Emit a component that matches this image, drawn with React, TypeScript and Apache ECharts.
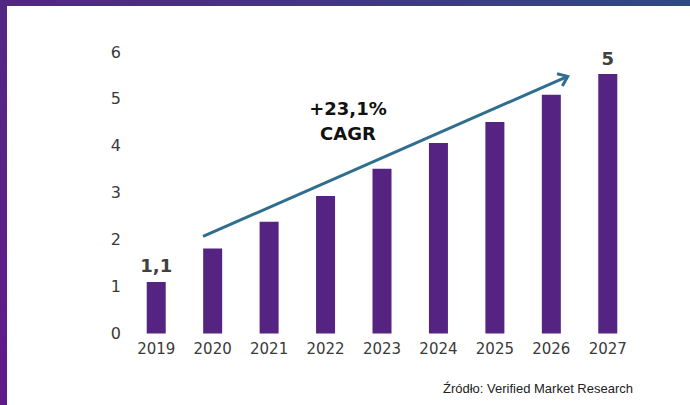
import React, { useEffect, useRef } from "react";
import * as echarts from "echarts";

const categories = ["2019", "2020", "2021", "2022", "2023", "2024", "2025", "2026", "2027"];
const values = [1.1, 1.81, 2.38, 2.93, 3.51, 4.06, 4.51, 5.09, 5.53];
const barLabels = ["1,1", "", "", "", "", "", "", "", "5"];
const yMin = 0;
const yMax = 6;
const yInterval = 1;
// arrow from/to in data units: [category position, value]
const arrowStart = [0.83, 2.07];
const arrowEnd = [7.29, 5.48];
const cagrText = ["+23,1%", "CAGR"];
const sourceText = "Źródło: Verified Market Research";

export default function App() {
  const ref = useRef<HTMLDivElement>(null);
  useEffect(() => {
    if (!ref.current) return;
    const chart = echarts.init(ref.current, null, { renderer: "svg" });
    const font = "'DejaVu Sans', Verdana, sans-serif";
    chart.setOption({
      animation: false,
      backgroundColor: "#ffffff",
      grid: { left: 128, right: 54, top: 52, bottom: 71.5 },
      xAxis: [
        {
          type: "category",
          data: categories,
          axisLine: { show: false },
          axisTick: { show: false },
          axisLabel: { color: "#3a3a3a", fontSize: 15, fontFamily: font, margin: 8 },
        },
        { type: "value", min: -0.5, max: 8.5, show: false },
      ],
      yAxis: {
        type: "value",
        min: yMin,
        max: yMax,
        interval: yInterval,
        axisLine: { show: false },
        axisTick: { show: false },
        splitLine: { show: false },
        axisLabel: { color: "#3a3a3a", fontSize: 16, fontFamily: font, margin: 7 },
      },
      series: [
        {
          type: "bar",
          data: values.map((v, i) => ({ value: v, label: { show: barLabels[i] !== "", formatter: barLabels[i] } })),
          barWidth: 19,
          itemStyle: { color: "#552381" },
          label: {
            position: "top",
            distance: 7,
            color: "#404040",
            fontSize: 18,
            fontWeight: "bold",
            fontFamily: font,
          },
        },
        {
          type: "custom",
          xAxisIndex: 1,
          yAxisIndex: 0,
          data: [[arrowStart[0], arrowStart[1], arrowEnd[0], arrowEnd[1]]],
          encode: { x: [0, 2], y: [1, 3] },
          renderItem: (params: any, api: any) => {
            const p1 = api.coord([api.value(0), api.value(1)]);
            const p2 = api.coord([api.value(2), api.value(3)]);
            const ang = Math.atan2(p2[1] - p1[1], p2[0] - p1[0]);
            const len = 11;
            const a1 = ang + Math.PI - 0.65;
            const a2 = ang + Math.PI + 0.65;
            const stroke = "#2f6e8e";
            return {
              type: "group",
              children: [
                {
                  type: "line",
                  shape: { x1: p1[0], y1: p1[1], x2: p2[0], y2: p2[1] },
                  style: { stroke, lineWidth: 3 },
                },
                {
                  type: "polyline",
                  shape: {
                    points: [
                      [p2[0] + len * Math.cos(a1), p2[1] + len * Math.sin(a1)],
                      [p2[0], p2[1]],
                      [p2[0] + len * Math.cos(a2), p2[1] + len * Math.sin(a2)],
                    ],
                  },
                  style: { stroke, lineWidth: 3, fill: "none" },
                },
              ],
            };
          },
          silent: true,
          z: 5,
        },
      ],
      graphic: [
        {
          type: "rect",
          left: 0,
          top: 0,
          shape: { width: 690, height: 6 },
          style: {
            fill: new echarts.graphic.LinearGradient(0, 0, 1, 0, [
              { offset: 0, color: "#55267f" },
              { offset: 1, color: "#2f4a7e" },
            ]),
          },
          z: 10,
        },
        {
          type: "rect",
          left: 0,
          top: 0,
          shape: { width: 7, height: 405 },
          style: {
            fill: new echarts.graphic.LinearGradient(0, 0, 0, 1, [
              { offset: 0, color: "#522883" },
              { offset: 1, color: "#611a89" },
            ]),
          },
          z: 10,
        },
        {
          type: "text",
          x: 348,
          y: 120.5,
          style: {
            text: cagrText.join("\n"),
            fill: "#111111",
            font: `bold 18px ${font}`,
            lineHeight: 25,
            align: "center",
            verticalAlign: "middle",
          },
          z: 10,
        },
        {
          type: "text",
          x: 633,
          y: 388,
          style: {
            text: sourceText,
            fill: "#222222",
            font: "13px 'Liberation Sans', Arial, sans-serif",
            align: "right",
            verticalAlign: "middle",
          },
          z: 10,
        },
      ],
    });
    return () => chart.dispose();
  }, []);
  return <div ref={ref} style={{ position: "fixed", left: 0, top: 0, width: 690, height: 405 }} />;
}
